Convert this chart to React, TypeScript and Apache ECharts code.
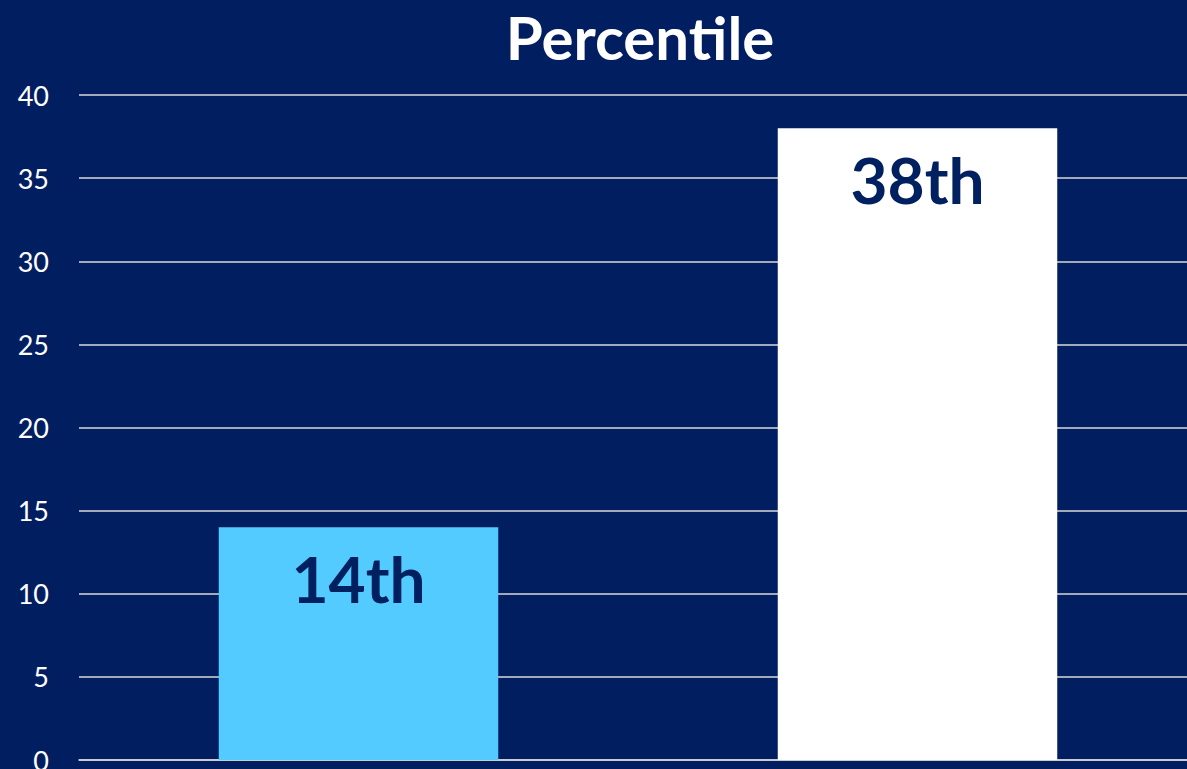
import React, { useEffect, useRef } from "react";
import * as echarts from "echarts";

const categories = ["A", "B"];
const values = [14, 38];
const valueLabels = ["14th", "38th"];
const barColors = ["#54CBFF", "#FFFFFF"];
const yTicks = { min: 0, max: 40, interval: 5 };
const titleText = "Percentile";

export default function App() {
  const ref = useRef<HTMLDivElement>(null);
  useEffect(() => {
    if (!ref.current) return;
    const chart = echarts.init(ref.current, undefined, { renderer: "svg" });
    chart.setOption({
      animation: false,
      backgroundColor: "#001E60",
      title: {
        text: titleText,
        left: 635,
        top: 0,
        textAlign: "center",
        textStyle: {
          color: "#FFFFFF",
          fontFamily: "Lato",
          fontWeight: "bold",
          fontSize: 60,
          lineHeight: 64,
        },
      },
      grid: {
        left: 79,
        right: -10,
        top: 95,
        bottom: 9,
        containLabel: false,
        outerBoundsMode: "none",
      },
      xAxis: {
        type: "category",
        data: categories,
        axisLabel: { show: false },
        axisTick: { show: false },
        axisLine: { show: true, lineStyle: { color: "#D9D9D9", width: 1.5 } },
      },
      yAxis: {
        type: "value",
        min: yTicks.min,
        max: yTicks.max,
        interval: yTicks.interval,
        axisLine: { show: false },
        axisTick: { show: false },
        axisLabel: {
          color: "#FFFFFF",
          fontFamily: "Lato",
          fontSize: 27,
          margin: 30,
        },
        splitLine: { lineStyle: { color: "#D9D9D9", width: 1.5 } },
      },
      series: [
        {
          type: "bar",
          barWidth: "50%",
          data: values.map((v, i) => ({
            value: v,
            itemStyle: { color: barColors[i] },
            label: { formatter: valueLabels[i] },
          })),
          label: {
            show: true,
            position: "insideTop",
            distance: 19,
            color: "#002060",
            fontFamily: "Lato",
            fontWeight: "bold",
            fontSize: 64,
          },
        },
      ],
    });
    return () => chart.dispose();
  }, []);
  return (
    <div
      ref={ref}
      style={{ position: "fixed", left: 0, top: 0, width: 1187, height: 769 }}
    />
  );
}
